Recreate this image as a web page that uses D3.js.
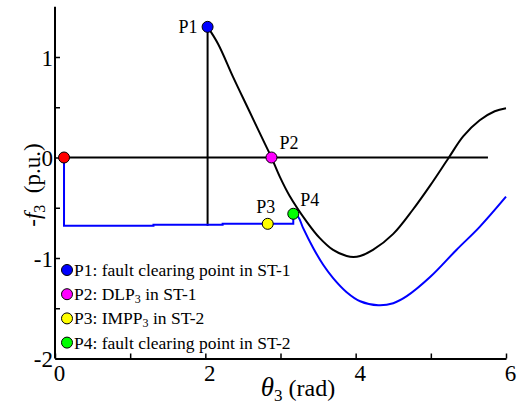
<!DOCTYPE html>
<html>
<head>
<meta charset="utf-8">
<script src="https://cdn.jsdelivr.net/npm/d3@7"></script>
<style>
  body { margin: 0; background: #fff; }
  svg { display: block; }
</style>
</head>
<body>
<svg id="chart" width="525" height="407"></svg>
<script>
// Post-clearing trajectory in ST-1 (black)
const st1Theta = [2.03, 2.17, 2.37, 2.58, 2.79, 2.88, 2.99, 3.12, 3.35, 3.52, 3.70, 3.88, 3.97, 4.06, 4.23, 4.50, 4.76, 4.99, 5.24, 5.43, 5.65, 5.85, 6.00];
const st1Value = [1.30, 1.13, 0.80, 0.47, 0.14, 0.00, -0.19, -0.38, -0.64, -0.80, -0.92, -0.98, -0.99, -0.98, -0.92, -0.76, -0.52, -0.28, 0.00, 0.21, 0.37, 0.46, 0.49];

// Post-clearing trajectory in ST-2 (blue)
const st2Theta = [3.17, 3.235, 3.30, 3.435, 3.57, 3.70, 3.88, 4.06, 4.30, 4.50, 4.68, 4.99, 5.34, 5.65, 6.00];
const st2Value = [-0.56, -0.59, -0.70, -0.90, -1.07, -1.20, -1.34, -1.43, -1.47, -1.45, -1.38, -1.19, -0.92, -0.69, -0.39];

// Fault-on path (blue steps)
const faultTheta = [0.12, 0.12, 1.31, 1.31, 2.23, 2.23, 3.17, 3.17];
const faultValue = [0.00, -0.68, -0.68, -0.67, -0.67, -0.66, -0.66, -0.56];

// Jump at the ST-1 clearing angle and the zero reference line (black)
const jumpTheta = [2.03, 2.03];
const jumpValue = [-0.68, 1.30];
const zeroTheta = [0.12, 5.76];
const zeroValue = [0.00, 0.00];

// Marked points
const pointNames  = ["P0", "P1", "P2", "P3", "P4"];
const pointTheta  = [0.12, 2.03, 2.88, 2.83, 3.17];
const pointValue  = [0.00, 1.30, 0.00, -0.66, -0.56];
const pointColors = ["#ff0000", "#0000ff", "#ff00ff", "#ffff00", "#00ff00"];

// Legend entries (main text, subscript, trailing text)
const legendColors = ["#0000ff", "#ff00ff", "#ffff00", "#00ff00"];
const legendMain   = ["P1: fault clearing point in ST-1", "P2: DLP", "P3: IMPP", "P4: fault clearing point in ST-2"];
const legendSub    = ["", "3", "3", ""];
const legendTail   = ["", " in ST-1", " in ST-2", ""];

// Axis ticks
const xTicks = [0, 1, 2, 3, 4, 5, 6];
const xTickLabels = ["0", "", "2", "", "4", "", "6"];
const yTicks = [-2, -1.5, -1, -0.5, 0, 0.5, 1];
const yTickLabels = ["-2", "", "-1", "", "0", "", "1"];

const SERIF = "'Liberation Serif', 'Times New Roman', Times, 'DejaVu Serif', serif";

const svg = d3.select("#chart");
const x = d3.scaleLinear().domain([0, 6]).range([55, 506]);
const y = d3.scaleLinear().domain([-2, 1.5]).range([358.5, 6.75]);

const line = d3.line().x(d => x(d[0])).y(d => y(d[1]));
const smooth = d3.line().x(d => x(d[0])).y(d => y(d[1])).curve(d3.curveCatmullRom.alpha(0.5));
const zip = (a, b) => a.map((v, i) => [v, b[i]]);

// Axes
const xAxis = d3.axisBottom(x).tickValues(xTicks)
  .tickFormat((d, i) => xTickLabels[i]).tickSizeInner(-5).tickSizeOuter(0);
const gx = svg.append("g").attr("transform", `translate(0,${y(-2)})`).call(xAxis)
  .attr("font-family", SERIF).attr("font-size", 23);
gx.select(".domain").attr("stroke", "#000").attr("stroke-width", 2);
gx.selectAll(".tick line").attr("stroke", "#000").attr("stroke-width", 1.5);
gx.selectAll(".tick text").attr("y", 22).attr("dy", 0).attr("dx", 4);

const yAxis = d3.axisLeft(y).tickValues(yTicks)
  .tickFormat((d, i) => yTickLabels[i]).tickSizeInner(-5).tickSizeOuter(0);
const gy = svg.append("g").attr("transform", `translate(${x(0)},0)`).call(yAxis)
  .attr("font-family", SERIF).attr("font-size", 23);
gy.select(".domain").attr("stroke", "#000").attr("stroke-width", 2)
  .attr("d", `M0,${y(1.5)}V${y(-2)}`);
gy.selectAll(".tick line").attr("stroke", "#000").attr("stroke-width", 1.5);
gy.selectAll(".tick text").attr("x", -2).attr("dy", "0.36em");

// Curves
const stroke = (p, c) => p.attr("fill", "none").attr("stroke", c).attr("stroke-width", 2);
stroke(svg.append("path").attr("d", line(zip(zeroTheta, zeroValue))), "#000");
stroke(svg.append("path").attr("d", line(zip(jumpTheta, jumpValue))), "#000");
stroke(svg.append("path").attr("d", smooth(zip(st1Theta, st1Value))), "#000");
stroke(svg.append("path").attr("d", line(zip(faultTheta, faultValue))), "#0000ff");
stroke(svg.append("path").attr("d", smooth(zip(st2Theta, st2Value))), "#0000ff");

// Markers
const pts = pointNames.map((n, i) => ({ n, t: pointTheta[i], v: pointValue[i], c: pointColors[i] }));
svg.append("g").selectAll("circle").data(pts).join("circle")
  .attr("cx", d => x(d.t)).attr("cy", d => y(d.v)).attr("r", 5.5)
  .attr("fill", d => d.c).attr("stroke", "#000").attr("stroke-width", 1);

// Point labels
const labelOffsets = { P1: [-10, 6, "end"], P2: [8, -9, "start"], P3: [-2, -11, "middle"], P4: [7, -8, "start"] };
svg.append("g").attr("font-family", SERIF).attr("font-size", 18)
  .selectAll("text").data(pts.filter(d => labelOffsets[d.n])).join("text")
  .attr("x", d => x(d.t) + labelOffsets[d.n][0])
  .attr("y", d => y(d.v) + labelOffsets[d.n][1])
  .attr("text-anchor", d => labelOffsets[d.n][2])
  .text(d => d.n);

// Legend
const lg = svg.append("g").attr("font-family", SERIF).attr("font-size", 17.5);
legendMain.forEach((m, i) => {
  const cy = 270 + i * 24.2;
  lg.append("circle").attr("cx", 67).attr("cy", cy).attr("r", 5.5)
    .attr("fill", legendColors[i]).attr("stroke", "#000").attr("stroke-width", 1);
  const t = lg.append("text").attr("x", 74).attr("y", cy + 6);
  t.append("tspan").text(m);
  if (legendSub[i]) {
    t.append("tspan").attr("dy", 3).attr("font-size", 12).text(legendSub[i]);
    t.append("tspan").attr("dy", -3).text(legendTail[i]);
  }
});

// Axis titles
const xt = svg.append("text").attr("x", 298).attr("y", 396).attr("text-anchor", "middle")
  .attr("font-family", SERIF).attr("font-size", 24);
xt.append("tspan").attr("font-style", "italic").attr("font-size", 27).text("θ");
xt.append("tspan").attr("dy", 5).attr("font-size", 17).text("3");
xt.append("tspan").attr("dy", -5).text(" (rad)");

const yt = svg.append("text").attr("transform", "translate(40,185) rotate(-90)")
  .attr("text-anchor", "middle").attr("font-family", SERIF).attr("font-size", 23);
yt.append("tspan").text("-");
yt.append("tspan").attr("font-style", "italic").text("f");
yt.append("tspan").attr("dy", 5).attr("font-size", 16).text("3");
yt.append("tspan").attr("dy", -5).text("\u00a0\u00a0(p.u.)");
</script>
</body>
</html>
